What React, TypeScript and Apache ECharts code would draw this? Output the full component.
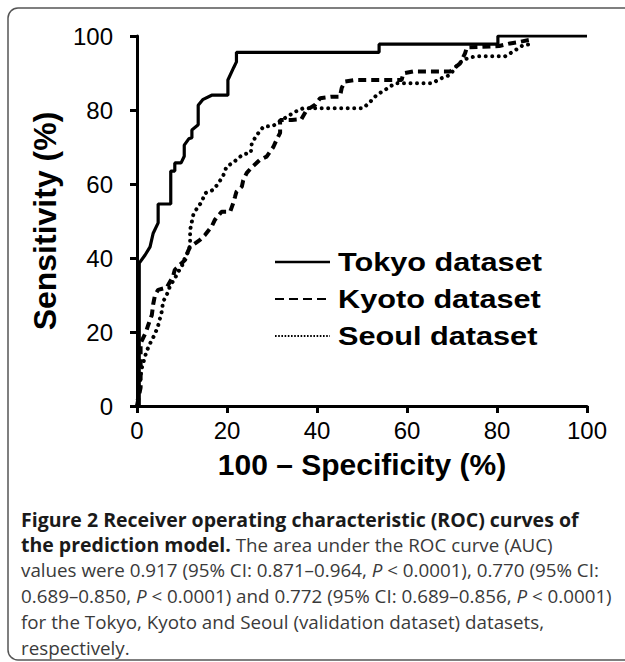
import React, { useEffect, useRef } from "react";
import * as echarts from "echarts";

// ---- Data ----
const axisTicks = [0, 20, 40, 60, 80, 100];

const tokyoFpr = [0, 0.5, 0.5, 1.8, 2.9, 3.6, 4.7, 4.7, 7.5, 7.5, 8.4, 8.4, 9.8, 10.5, 10.5, 11.5, 12.2, 12.2, 13.6, 13.6, 14.6, 16.6, 20.2, 20.2, 21.5, 22.1, 22.1, 53.8, 53.8, 80.2, 80.2, 100];
const tokyoTpr = [0, 0, 38.6, 40.8, 43, 46.7, 49.5, 54.6, 54.6, 63.5, 63.5, 65.7, 65.7, 67.5, 70.5, 72.2, 72.5, 74.6, 76, 81.3, 82.8, 84, 84, 88.1, 91.5, 93, 95.6, 95.6, 97.8, 97.8, 100, 100];

const kyotoFpr = [0, 0.8, 0.8, 2, 2.5, 3.3, 3.6, 4, 4.7, 6.6, 8, 8.4, 10.7, 11.3, 11.8, 14, 15.1, 16.6, 17.3, 18.8, 20.7, 21.4, 21.8, 22.1, 23.3, 23.6, 24.4, 25.5, 27.3, 28.8, 30.3, 31, 31.8, 31.8, 34.4, 36.5, 37.7, 39.6, 40.7, 43.3, 45.1, 45.5, 46.2, 48.4, 56.2, 58.8, 59.2, 61.4, 68.1, 69.6, 71.8, 72.9, 73.3, 80.5, 82.9, 85, 87.5];
const kyotoTpr = [0, 5, 17, 20, 21.9, 24.6, 27.5, 30, 31.4, 32, 35, 36.8, 39.5, 41.7, 43, 44.9, 46.2, 48.5, 50.3, 52.5, 52.5, 54.9, 56.6, 57.9, 59.3, 61, 63, 64.5, 66.5, 67.4, 70, 71.9, 73.8, 77.3, 77.3, 77.5, 80, 81.4, 83.2, 83.6, 83.6, 86, 87.7, 88.1, 88.1, 88.1, 89.9, 90.4, 90.4, 90.4, 92.6, 95.3, 96.9, 97.3, 98, 98.4, 99];

const seoulFpr = [0, 0.5, 1, 2.1, 3.1, 3.8, 4.6, 5.5, 5.8, 6.6, 7.3, 8.4, 9.2, 10.3, 10.7, 11.4, 11.8, 11.8, 11.8, 12.5, 13.3, 14.4, 15.1, 16.9, 18.1, 19.2, 19.9, 21.4, 22.5, 23.6, 25.3, 25.5, 26.6, 28.1, 30.2, 32.2, 35.1, 37, 50.3, 51.8, 53.3, 55.1, 57.3, 65.5, 67.7, 69.6, 71.4, 73.3, 75.1, 81.8, 83.6, 85.9, 88];
const seoulTpr = [0, 5, 10, 14.7, 17.4, 19, 21.3, 25.5, 28.2, 30, 32.3, 34.5, 36.3, 38.6, 40.4, 41.7, 43.5, 45.8, 47.6, 51.6, 53.4, 55.2, 57.5, 58.4, 60.2, 62.4, 64.7, 65.8, 67, 68, 68.5, 71, 73.2, 75.5, 75.7, 77.3, 79.5, 80.5, 80.5, 82.2, 84.1, 85.4, 87.2, 87.2, 88.6, 89.5, 92.6, 93.9, 94.5, 94.5, 95.8, 97.6, 97.8];

const seriesNames = ["Tokyo dataset", "Kyoto dataset", "Seoul dataset"];

const captionLines = [
  "{b|Figure 2 Receiver operating characteristic (ROC) curves of}",
  "{b|the prediction model.}{r| The area under the ROC curve (AUC)}",
  "{r|values were 0.917 (95% CI: 0.871–0.964, }{i|P}{r| < 0.0001), 0.770 (95% CI:}",
  "{r|0.689–0.850, }{i|P}{r| < 0.0001) and 0.772 (95% CI: 0.689–0.856, }{i|P}{r| < 0.0001)}",
  "{r|for the Tokyo, Kyoto and Seoul (validation dataset) datasets,}",
  "{r|respectively.}",
];

const zip = (xs: number[], ys: number[]) => xs.map((x, i) => [x, ys[i]]);

export default function App() {
  const ref = useRef<HTMLDivElement>(null);

  useEffect(() => {
    if (!ref.current) return;
    const chart = echarts.init(ref.current, undefined, { renderer: "svg" });
    const AX = "Liberation Sans, Arial, sans-serif";
    const CAP = "Open Sans, sans-serif";

    const axisCommon = {
      type: "value" as const,
      min: axisTicks[0],
      max: axisTicks[axisTicks.length - 1],
      interval: axisTicks[1] - axisTicks[0],
      axisLine: { show: true, lineStyle: { color: "#000", width: 3 } },
      axisTick: { show: true, length: 7, lineStyle: { color: "#000", width: 3 } },
      splitLine: { show: false },
      nameLocation: "middle" as const,
    };

    const legendY = [262, 299, 336];
    const legendDash: any[] = [null, [9, 5], [1.6, 1.6]];

    const graphic: any[] = [
      {
        type: "rect",
        shape: { x: 8, y: 8, width: 640, height: 652, r: 10 },
        style: { fill: "none", stroke: "#555", lineWidth: 1.5 },
        silent: true,
      },
    ];
    seriesNames.forEach((name, i) => {
      graphic.push({
        type: "line",
        shape: { x1: 275, y1: legendY[i], x2: 330, y2: legendY[i] },
        style: { stroke: "#000", lineWidth: i === 0 ? 2.5 : 2, lineDash: legendDash[i] || undefined },
      });
      graphic.push({
        type: "text",
        x: 338,
        y: legendY[i],
        scaleX: 1.18,
        style: {
          text: name,
          fontSize: 26,
          fontWeight: "bold",
          fontFamily: AX,
          fill: "#000",
          verticalAlign: "middle",
          align: "left",
        },
      });
    });
    captionLines.forEach((line, i) => {
      graphic.push({
        type: "text",
        x: 21,
        y: 519 + i * 25.7,
        style: {
          text: line,
          fontFamily: CAP,
          fontSize: 18.8,
          verticalAlign: "middle",
          align: "left",
          rich: {
            b: { fontFamily: CAP, fontSize: 19.5, fontWeight: "bold", fill: "#1a1a1a" },
            r: { fontFamily: CAP, fontSize: 18.8, fill: "#3a3a3a" },
            i: { fontFamily: CAP, fontSize: 18.8, fontStyle: "italic", fill: "#3a3a3a" },
          },
        },
      });
    });

    chart.setOption({
      animation: false,
      backgroundColor: "#fff",
      grid: { left: 137, top: 36, right: 38, bottom: 256, containLabel: false },
      xAxis: {
        ...axisCommon,
        name: "100 – Specificity (%)",
        nameGap: 43,
        nameTextStyle: { fontSize: 30, fontWeight: "bold", fontFamily: AX, color: "#000" },
        axisLabel: { fontSize: 24, color: "#000", fontFamily: AX, margin: 12 },
      },
      yAxis: {
        ...axisCommon,
        name: "Sensitivity (%)",
        nameGap: 76,
        nameTextStyle: { fontSize: 32, fontWeight: "bold", fontFamily: AX, color: "#000" },
        axisLabel: { fontSize: 24, color: "#000", fontFamily: AX, margin: 24 },
      },
      series: [
        {
          name: seriesNames[1],
          type: "line",
          data: zip(kyotoFpr, kyotoTpr),
          showSymbol: false,
          z: 2,
          lineStyle: { color: "#000", width: 4, type: [8, 5], cap: "butt" },
        },
        {
          name: seriesNames[2],
          type: "line",
          data: zip(seoulFpr, seoulTpr),
          showSymbol: false,
          z: 2,
          lineStyle: { color: "#000", width: 4, type: [0.01, 6.5], cap: "round" },
        },
        {
          name: seriesNames[0],
          type: "line",
          data: zip(tokyoFpr, tokyoTpr),
          showSymbol: false,
          z: 3,
          lineStyle: { color: "#000", width: 3.2 },
        },
      ],
      graphic,
    });

    return () => chart.dispose();
  }, []);

  return (
    <div
      ref={ref}
      style={{ position: "absolute", left: 0, top: 0, width: 625, height: 662, background: "#fff" }}
    />
  );
}
